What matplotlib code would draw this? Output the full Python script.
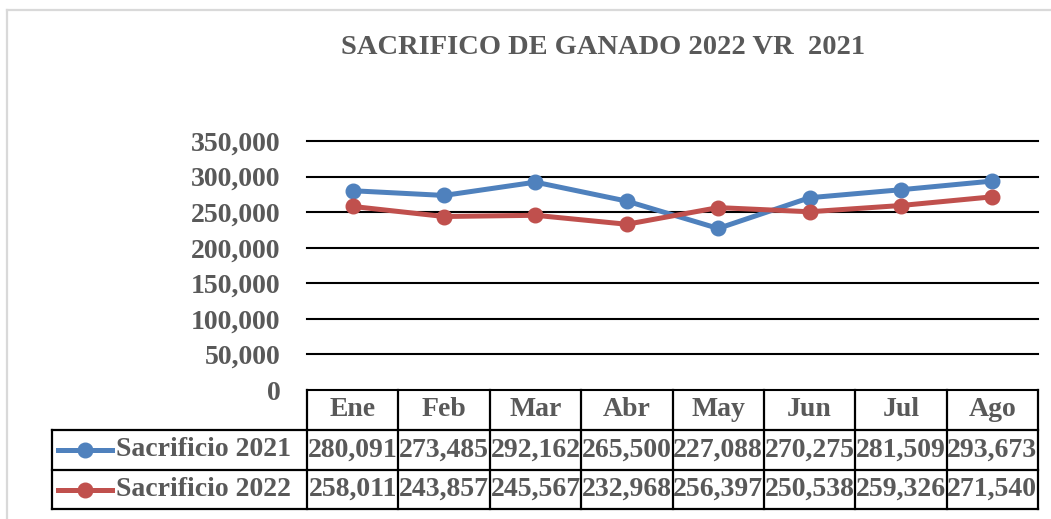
import matplotlib
matplotlib.use("Agg")
import matplotlib.pyplot as plt
from matplotlib.transforms import blended_transform_factory
from matplotlib.lines import Line2D

months = ["Ene", "Feb", "Mar", "Abr", "May", "Jun", "Jul", "Ago"]
s2021 = [280091, 273485, 292162, 265500, 227088, 270275, 281509, 293673]
s2022 = [258011, 243857, 245567, 232968, 256397, 250538, 259326, 271540]
series_names = ["Sacrificio 2021", "Sacrificio 2022"]
yticks = [0, 50000, 100000, 150000, 200000, 250000, 300000, 350000]
title = "SACRIFICO DE GANADO 2022 VR  2021"

W, H = 1051, 519
fig = plt.figure(figsize=(W / 100, H / 100), dpi=100)
FONT = "Liberation Serif"
TXT = "#595959"
BLUE = "#4F81BD"
RED = "#C0504D"
FS = 20


def fx(px):
    return px / W


def fy(py):
    return 1 - py / H


# outer chart border (light gray)
fig.add_artist(Line2D([fx(7), 1.0], [fy(10), fy(10)], color="#d9d9d9", lw=1.6))
fig.add_artist(Line2D([fx(7), fx(7)], [fy(10), 0.0], color="#d9d9d9", lw=1.6))

fig.text(fx(603), fy(48), title, ha="center", va="center", fontsize=20.5,
         fontweight="bold", family=FONT, color=TXT)

ax = fig.add_axes([fx(307), fy(390), fx(1038) - fx(307), fy(141) - fy(390)])
ax.set_xlim(-0.5, len(months) - 0.5)
ax.set_ylim(0, 350000)
for s in ax.spines.values():
    s.set_visible(False)
ax.set_xticks([])
ax.set_yticks(yticks)
ax.set_yticklabels([f"{v:,}" for v in yticks], fontsize=FS, fontweight="bold",
                   family=FONT, color=TXT)
ax.tick_params(axis="y", length=0, pad=19)
for v in yticks:
    ax.axhline(v, color="black", lw=1.5, clip_on=False, zorder=1)

x = list(range(len(months)))
ax.plot(x, s2021, color=BLUE, lw=3.6, marker="o", ms=10.5, clip_on=False, zorder=3)
ax.plot(x, s2022, color=RED, lw=3.6, marker="o", ms=10.5, clip_on=False, zorder=3)

# data table below the axes
tdata = blended_transform_factory(ax.transData, fig.transFigure)
taxes = blended_transform_factory(ax.transAxes, fig.transFigure)
y_top, y_hdr, y_mid, y_bot = fy(390), fy(430), fy(470), fy(509)
leg_left = (52 - 307) / (1038 - 307)
lw_t = 1.6
n = len(months)
for i in range(n + 1):
    ax.add_line(Line2D([i - 0.5, i - 0.5], [y_top, y_bot], color="black", lw=lw_t,
                       transform=tdata, clip_on=False))
ax.add_line(Line2D([leg_left, leg_left], [y_hdr, y_bot], color="black", lw=lw_t,
                   transform=taxes, clip_on=False))
for yy in (y_hdr, y_mid, y_bot):
    ax.add_line(Line2D([leg_left, 1], [yy, yy], color="black", lw=lw_t,
                       transform=taxes, clip_on=False))

for i, m in enumerate(months):
    ax.text(i, (y_top + y_hdr) / 2, m, transform=tdata, ha="center", va="center",
            fontsize=FS, fontweight="bold", family=FONT, color=TXT)

rows = [(series_names[0], s2021, BLUE, (y_hdr + y_mid) / 2),
        (series_names[1], s2022, RED, (y_mid + y_bot) / 2)]
for name, vals, col, yc in rows:
    for i, v in enumerate(vals):
        ax.text(i, yc, f"{v:,}", transform=tdata, ha="center", va="center",
                fontsize=FS, fontweight="bold", family=FONT, color=TXT)
    k0 = (58 - 307) / (1038 - 307)
    k1 = (112 - 307) / (1038 - 307)
    ax.add_line(Line2D([k0, k1], [yc, yc], color=col, lw=3.6, transform=taxes,
                       clip_on=False))
    ax.add_line(Line2D([(k0 + k1) / 2], [yc], color=col, marker="o", ms=10.5,
                       transform=taxes, clip_on=False))
    ax.text((116 - 307) / (1038 - 307), yc, name, transform=taxes, ha="left",
            va="center", fontsize=FS, fontweight="bold", family=FONT, color=TXT)

fig.savefig("out.png", dpi=100)
